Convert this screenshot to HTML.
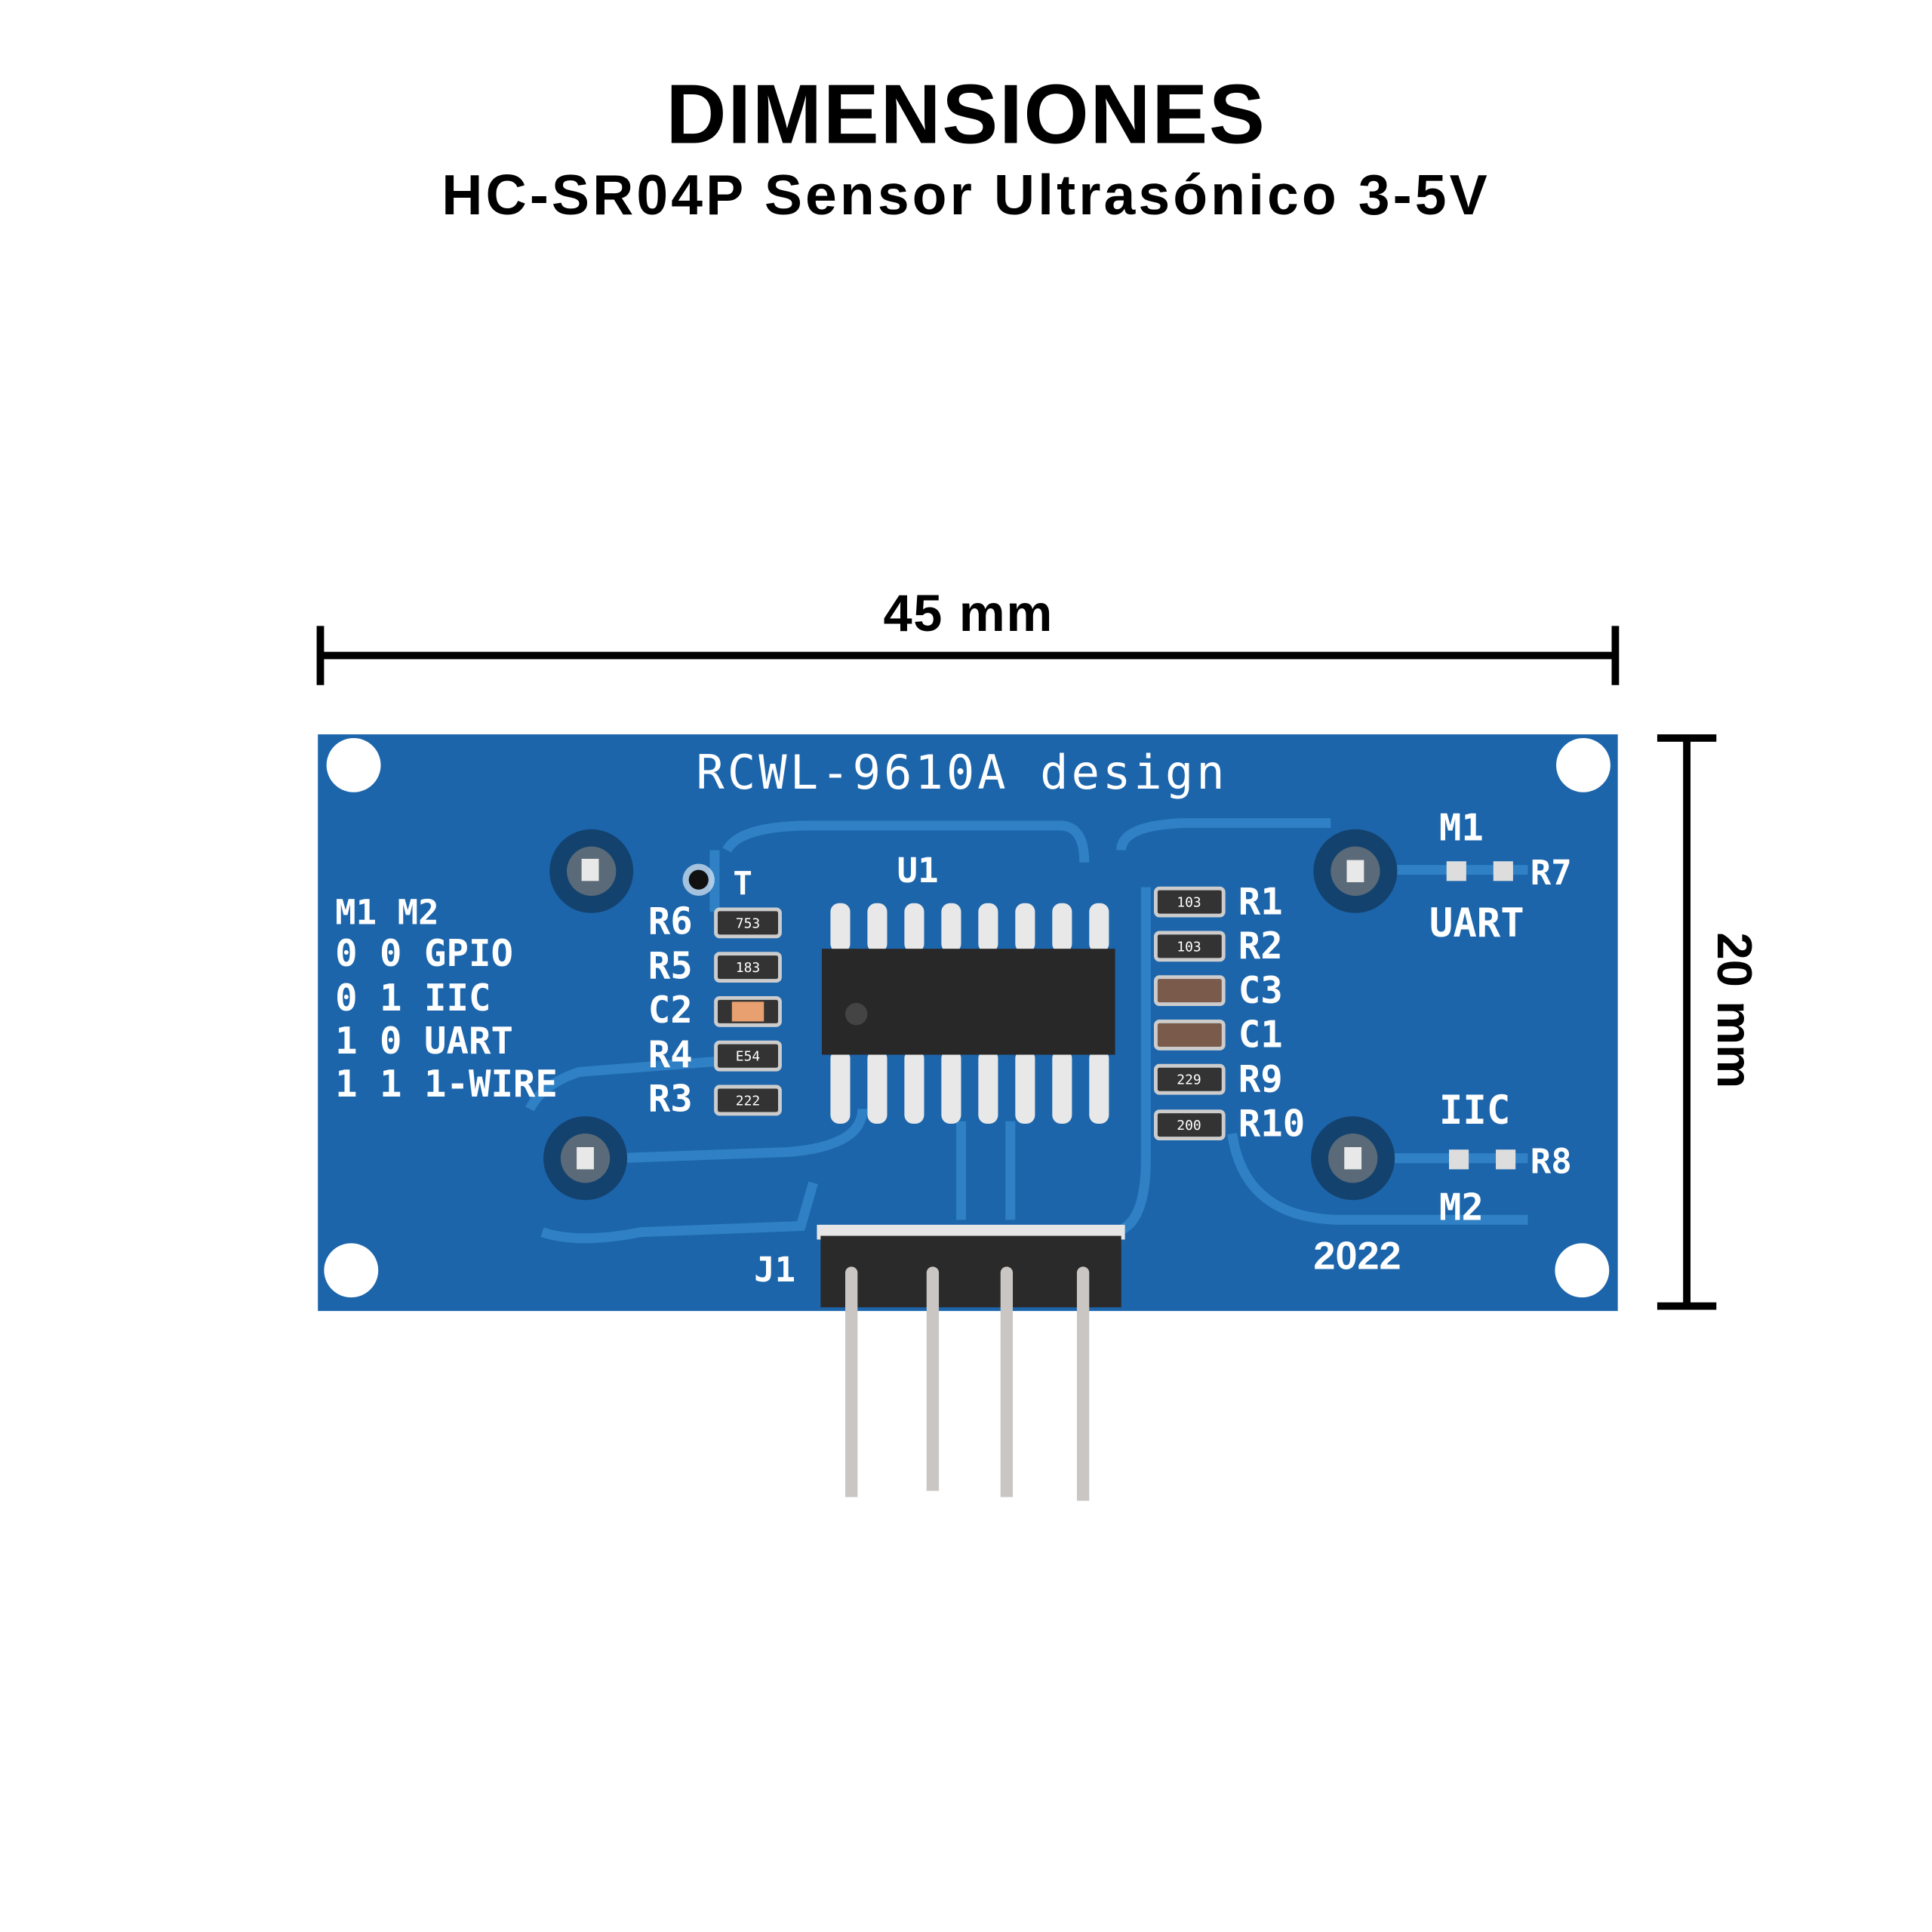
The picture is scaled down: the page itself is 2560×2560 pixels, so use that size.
<!DOCTYPE html>
<html><head><meta charset="utf-8"><style>
html,body{margin:0;padding:0;background:#fff;}
svg{display:block}
</style></head><body>
<svg width="2560" height="2560" viewBox="0 0 1568 1568" xmlns="http://www.w3.org/2000/svg">
<rect width="1568" height="1568" fill="#fff"/>
<text x="784" y="116" text-anchor="middle" font-family="Liberation Sans, sans-serif" font-weight="bold" font-size="68" letter-spacing="1" fill="#000">DIMENSIONES</text>
<text x="784" y="174" text-anchor="middle" font-family="Liberation Sans, sans-serif" font-weight="bold" font-size="46" letter-spacing="2.5" fill="#000">HC-SR04P Sensor Ultrasónico 3-5V</text>
<!-- horizontal dimension -->
<text x="786" y="512" text-anchor="middle" font-family="Liberation Sans, sans-serif" font-weight="bold" font-size="42" letter-spacing="1" fill="#000">45 mm</text>
<rect x="260" y="529" width="1051" height="6" fill="#000"/>
<rect x="257" y="508" width="6" height="48" fill="#000"/>
<rect x="1308" y="508" width="6" height="48" fill="#000"/>
<!-- vertical dimension -->
<rect x="1366" y="598" width="6" height="462" fill="#000"/>
<rect x="1345" y="596" width="48" height="6" fill="#000"/>
<rect x="1345" y="1057" width="48" height="6" fill="#000"/>
<text transform="translate(1394,820) rotate(90)" text-anchor="middle" font-family="Liberation Sans, sans-serif" font-weight="bold" font-size="40" fill="#000">20 mm</text>
<!-- pins below -->
<g fill="#c9c6c3">
<rect x="686" y="1040" width="10" height="175"/><rect x="752" y="1040" width="10" height="170"/>
<rect x="812" y="1040" width="10" height="175"/><rect x="874" y="1040" width="10" height="178"/>
</g>
<!-- board -->
<rect x="258" y="596" width="1055" height="468" fill="#1c65ab"/>
<g fill="none" stroke="#2f80c4" stroke-width="8">
<path d="M430 900 Q440 880 470 870 L600 860 M440 1000 Q470 1010 520 1000 L650 995 L660 960 M500 940 L640 935 Q700 930 700 900"/>
<path d="M580 690 L580 740 M590 690 Q600 670 660 670 L860 670 Q880 670 880 700 M910 690 Q910 670 960 668 L1080 668"/>
<path d="M1000 920 Q1010 990 1090 990 L1240 990 M1130 706 L1240 706 M1130 940 L1240 940 M930 720 L930 940 Q930 1000 900 1000"/>
<path d="M820 910 L820 990 M780 910 L780 990"/>
</g>
<g fill="#fff"><circle cx="287" cy="621" r="22"/><circle cx="1285" cy="621" r="22"/><circle cx="285" cy="1031" r="22"/><circle cx="1284" cy="1031" r="22"/></g>
<g>
<circle cx="480" cy="707" r="34" fill="#14426e"/><circle cx="480" cy="707" r="20" fill="#5a6a78"/><rect x="472" y="697" width="14" height="18" fill="#e8e8e8"/>
<circle cx="1100" cy="707" r="34" fill="#14426e"/><circle cx="1100" cy="707" r="20" fill="#5a6a78"/><rect x="1093" y="698" width="14" height="18" fill="#e8e8e8"/>
<circle cx="475" cy="940" r="34" fill="#14426e"/><circle cx="475" cy="940" r="20" fill="#5a6a78"/><rect x="468" y="931" width="14" height="18" fill="#e8e8e8"/>
<circle cx="1098" cy="940" r="34" fill="#14426e"/><circle cx="1098" cy="940" r="20" fill="#5a6a78"/><rect x="1091" y="931" width="14" height="18" fill="#e8e8e8"/>
<circle cx="567" cy="714" r="13" fill="#fff" opacity=".6"/><circle cx="567" cy="714" r="8" fill="#111"/>
</g>
<!-- IC -->
<g fill="#e8e8e8">
<rect x="674" y="733" width="16" height="40" rx="7"/><rect x="704" y="733" width="16" height="40" rx="7"/><rect x="734" y="733" width="16" height="40" rx="7"/><rect x="764" y="733" width="16" height="40" rx="7"/><rect x="794" y="733" width="16" height="40" rx="7"/><rect x="824" y="733" width="16" height="40" rx="7"/><rect x="854" y="733" width="16" height="40" rx="7"/><rect x="884" y="733" width="16" height="40" rx="7"/>
<rect x="674" y="852" width="16" height="60" rx="7"/><rect x="704" y="852" width="16" height="60" rx="7"/><rect x="734" y="852" width="16" height="60" rx="7"/><rect x="764" y="852" width="16" height="60" rx="7"/><rect x="794" y="852" width="16" height="60" rx="7"/><rect x="824" y="852" width="16" height="60" rx="7"/><rect x="854" y="852" width="16" height="60" rx="7"/><rect x="884" y="852" width="16" height="60" rx="7"/>
</g>
<rect x="667" y="770" width="238" height="86" fill="#282828"/>
<circle cx="695" cy="823" r="9" fill="#444"/>
<!-- passives -->
<g stroke="#ccc" stroke-width="3">
<rect x="581" y="738" width="52" height="22" rx="3" fill="#333"/>
<rect x="581" y="774" width="52" height="22" rx="3" fill="#333"/>
<rect x="581" y="810" width="52" height="22" rx="3" fill="#333"/>
<rect x="581" y="846" width="52" height="22" rx="3" fill="#333"/>
<rect x="581" y="882" width="52" height="22" rx="3" fill="#333"/>
<rect x="938" y="721" width="55" height="22" rx="3" fill="#333"/>
<rect x="938" y="757" width="55" height="22" rx="3" fill="#333"/>
<rect x="938" y="793" width="55" height="22" rx="3" fill="#7a5a4a"/>
<rect x="938" y="829" width="55" height="22" rx="3" fill="#7a5a4a"/>
<rect x="938" y="865" width="55" height="22" rx="3" fill="#333"/>
<rect x="938" y="902" width="55" height="22" rx="3" fill="#333"/>
</g>
<rect x="594" y="813" width="26" height="16" fill="#e8a070"/>
<g fill="#fff" font-family="DejaVu Sans Mono, Liberation Mono, monospace" font-size="11" text-anchor="middle">
<text x="607" y="753">753</text><text x="607" y="789">183</text><text x="607" y="861">E54</text><text x="607" y="897">222</text>
<text x="965" y="736">103</text><text x="965" y="772">103</text><text x="965" y="880">229</text><text x="965" y="917">200</text>
</g>
<!-- header -->
<rect x="663" y="994" width="250" height="12" fill="#e6e6e6"/>
<rect x="666" y="1003" width="244" height="58" fill="#2a2a2a"/>
<g fill="#c9c6c3"><rect x="686" y="1028" width="10" height="40" rx="5"/><rect x="752" y="1028" width="10" height="40" rx="5"/><rect x="812" y="1028" width="10" height="40" rx="5"/><rect x="874" y="1028" width="10" height="40" rx="5"/></g>
<!-- silkscreen -->
<g fill="#fff" font-family="DejaVu Sans Mono, Liberation Mono, monospace" font-weight="bold">
<text x="565" y="640" font-size="38" letter-spacing="2.5" font-weight="normal">RCWL-9610A design</text>
<text x="272" y="750" font-size="28">M1 M2</text>
<text x="272" y="784" font-size="30">0  0 GPIO</text>
<text x="272" y="820" font-size="30">0  1 IIC</text>
<text x="272" y="855" font-size="30">1  0 UART</text>
<text x="272" y="890" font-size="30">1  1 1-WIRE</text>
<text x="526" y="758" font-size="30">R6</text><text x="526" y="794" font-size="30">R5</text><text x="526" y="830" font-size="30">C2</text><text x="526" y="866" font-size="30">R4</text><text x="526" y="902" font-size="30">R3</text>
<text x="595" y="726" font-size="26">T</text>
<text x="728" y="716" font-size="28">U1</text>
<text x="1005" y="742" font-size="30">R1</text><text x="1005" y="778" font-size="30">R2</text><text x="1005" y="814" font-size="30">C3</text><text x="1005" y="850" font-size="30">C1</text><text x="1005" y="886" font-size="30">R9</text><text x="1005" y="922" font-size="30">R10</text>
<text x="1168" y="682" font-size="30">M1</text>
<text x="1160" y="760" font-size="32">UART</text>
<text x="1242" y="718" font-size="28">R7</text>
<text x="1168" y="912" font-size="32">IIC</text>
<text x="1242" y="952" font-size="28">R8</text>
<text x="1168" y="990" font-size="30">M2</text>
<text x="1066" y="1030" font-family="Liberation Sans, sans-serif" font-weight="bold" font-size="32">2022</text>
<text x="612" y="1040" font-size="28">J1</text>
</g>
<g fill="#ddd"><rect x="1174" y="699" width="16" height="16"/><rect x="1212" y="699" width="16" height="16"/><rect x="1176" y="933" width="16" height="16"/><rect x="1214" y="933" width="16" height="16"/></g>
</svg>
</body></html>
